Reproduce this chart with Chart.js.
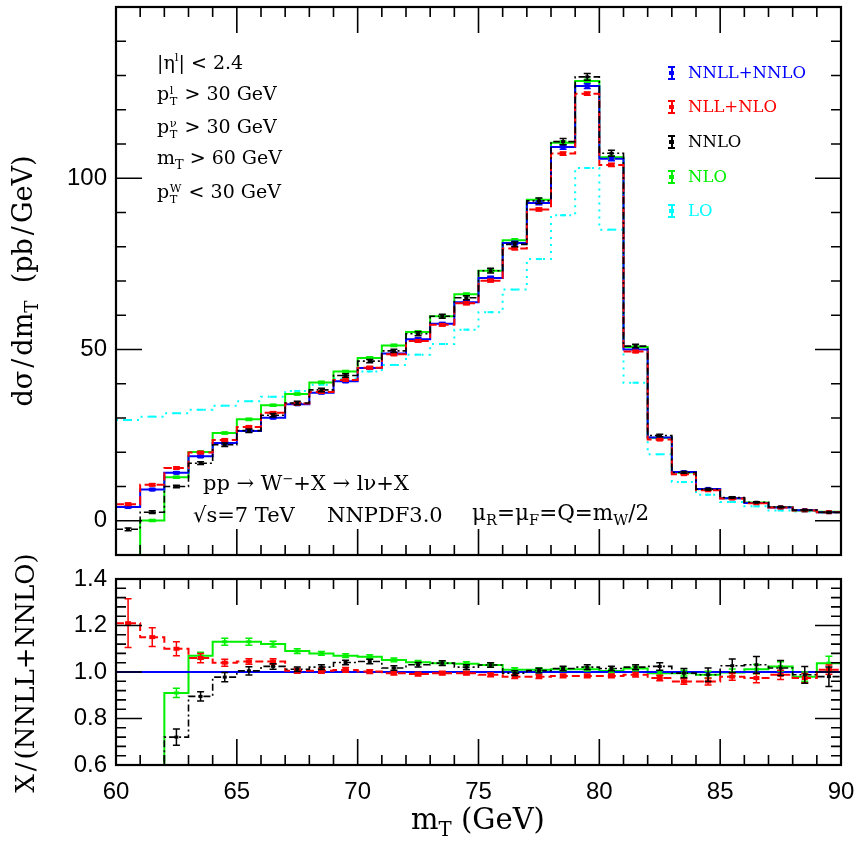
<!DOCTYPE html>
<html>
<head>
<meta charset="utf-8">
<script src="https://cdn.jsdelivr.net/npm/chart.js@4.4.1/dist/chart.umd.min.js"></script>
<style>
  body { margin: 0; background: #fff; }
  #wrap { position: relative; width: 858px; height: 846px; overflow: hidden; font-family: 'DejaVu Serif', serif; color: #000; }
  #wrap canvas { position: absolute; left: 0; }
  #topChart { top: 0; }
  #botChart { top: 560px; }
  .lbl { position: absolute; white-space: nowrap; line-height: 1; }
  .rot { transform: translate(-50%, -50%) rotate(-90deg); }
  .ctr { transform: translate(-50%, -50%); }
  .vc { transform: translateY(-50%); }
  .ss { display: inline-flex; flex-direction: column; vertical-align: 0.5em; font-size: 0.6em; line-height: 0.95; margin: 0 0.1em 0 0.05em; }
  .sb { font-size: 0.68em; vertical-align: -0.35em; }
  .sp { font-size: 0.62em; vertical-align: 0.6em; }
  .sl { margin: 0 3px; }
  .leg { position: absolute; left: 688px; font-size: 16.5px; line-height: 1; transform: translateY(-50%); }
  .icon { position: absolute; left: 668px; width: 7px; height: 14px; transform: translateY(-50%); }
  .icon i { position: absolute; left: 2.5px; top: 0; width: 2px; height: 14px; }
  .icon b { position: absolute; left: 0; width: 7px; height: 2px; }
  .icon u { position: absolute; left: 1px; top: 5px; width: 5px; height: 4px; }
</style>
</head>
<body>
<div id="wrap">
  <canvas id="topChart" width="858" height="560"></canvas>
  <canvas id="botChart" width="858" height="286"></canvas>

  <div class="lbl rot" style="left:25px; top:281px; font-size:27px;">dσ<span class="sl">/</span>dm<span class="sb">T</span>&nbsp; (pb<span class="sl">/</span>GeV)</div>
  <div class="lbl rot" style="left:25px; top:673px; font-size:26px;">X<span class="sl">/</span>(NNLL+NNLO)</div>
  <div class="lbl ctr" style="left:478px; top:822px; font-size:29px;">m<span class="sb">T</span> (GeV)</div>

  <div class="lbl vc" style="left:157px; top:62px; font-size:19px;">|η<span class="sp">l</span>| &lt; 2.4</div>
  <div class="lbl vc" style="left:157px; top:95px; font-size:19px;">p<span class="ss"><span>l</span><span>T</span></span> &gt; 30 GeV</div>
  <div class="lbl vc" style="left:157px; top:128px; font-size:19px;">p<span class="ss"><span>ν</span><span>T</span></span> &gt; 30 GeV</div>
  <div class="lbl vc" style="left:157px; top:160px; font-size:19px;">m<span class="sb">T</span> &gt; 60 GeV</div>
  <div class="lbl vc" style="left:157px; top:193px; font-size:19px;">p<span class="ss"><span>W</span><span>T</span></span> &lt; 30 GeV</div>

  <div class="lbl vc" style="left:203px; top:483px; font-size:21px;">pp → W<span class="sp">−</span>+X → lν+X</div>
  <div class="lbl vc" style="left:193px; top:515px; font-size:21px;">√s=7 TeV</div>
  <div class="lbl vc" style="left:327px; top:515px; font-size:21px;">NNPDF3.0</div>
  <div class="lbl vc" style="left:472px; top:515px; font-size:21.5px;">μ<span class="sb">R</span>=μ<span class="sb">F</span>=Q=m<span class="sb">W</span>/2</div>

  <div id="legend"></div>
</div>
<script>
// bins in m_T (GeV)
const binEdges = [60, 61, 62, 63, 64, 65, 66, 67, 68, 69, 70, 71, 72, 73, 74, 75,
  76, 77, 78, 79, 80, 81, 82, 83, 84, 85, 86, 87, 88, 89, 90];

// d sigma / d m_T (pb/GeV)
const nnllNnlo = [4.0, 9.1, 14.0, 18.8, 22.7, 26.2, 30.1, 34.0, 37.4, 40.7, 44.6, 48.8, 53.0, 57.5, 63.8,
  70.9, 81.1, 92.8, 109.1, 126.9, 105.7, 50.0, 24.3, 14.2, 9.3, 6.6, 5.2, 3.9, 3.1, 2.5];
const nllNlo = [4.84, 10.5, 15.4, 19.9, 23.6, 27.4, 31.5, 34.2, 37.6, 41.1, 44.7, 48.6, 52.5, 57.2, 63.5,
  70.1, 79.5, 90.9, 107.2, 124.7, 103.9, 49.4, 23.7, 13.6, 8.9, 6.5, 5.1, 3.85, 3.0, 2.5];
const nnlo = [-2.5, 2.5, 10.0, 16.8, 22.2, 26.3, 30.8, 34.4, 38.2, 42.4, 46.6, 49.6, 54.6, 59.7, 65.1,
  73.0, 80.7, 93.4, 110.7, 129.6, 107.3, 51.0, 24.9, 14.1, 9.2, 6.8, 5.4, 4.0, 3.1, 2.45];
const nlo = [-15, 0.1, 12.7, 20.1, 25.6, 29.6, 33.7, 37.0, 40.4, 43.6, 47.5, 51.2, 55.1, 59.7, 66.1,
  73.0, 81.9, 93.7, 110.4, 128.4, 106.1, 50.7, 24.2, 14.1, 9.2, 6.6, 5.3, 4.0, 3.0, 2.6];
const lo = [29.4, 30.4, 31.4, 32.4, 33.6, 34.9, 36.2, 37.9, 39.7, 41.5, 43.6, 45.5, 48.5, 51.6, 55.8,
  60.9, 67.5, 76.4, 89.2, 103.0, 85.0, 40.3, 19.4, 11.3, 7.6, 5.5, 4.2, 3.0, 2.7, 2.4];

// integration errors (pb/GeV)
const errNnllNnlo = [0.3, 0.3, 0.3, 0.3, 0.3, 0.3, 0.3, 0.3, 0.35, 0.35, 0.4, 0.4, 0.4, 0.4, 0.45,
  0.5, 0.5, 0.55, 0.6, 0.7, 0.6, 0.3, 0.2, 0.15, 0.1, 0.1, 0.08, 0.07, 0.06, 0.05];
const errNllNlo = [0.3, 0.3, 0.3, 0.3, 0.3, 0.3, 0.3, 0.3, 0.3, 0.3, 0.35, 0.35, 0.35, 0.35, 0.4,
  0.4, 0.4, 0.45, 0.5, 0.5, 0.5, 0.3, 0.2, 0.15, 0.1, 0.1, 0.08, 0.07, 0.06, 0.05];
const errNnlo = [0.4, 0.4, 0.4, 0.4, 0.5, 0.5, 0.5, 0.5, 0.5, 0.5, 0.5, 0.5, 0.6, 0.6, 0.6,
  0.7, 0.7, 0.8, 0.9, 1.0, 0.9, 0.5, 0.35, 0.25, 0.2, 0.18, 0.15, 0.12, 0.1, 0.08];
const errNlo = [0.3, 0.3, 0.3, 0.3, 0.3, 0.3, 0.3, 0.3, 0.3, 0.3, 0.35, 0.35, 0.35, 0.35, 0.4,
  0.4, 0.4, 0.45, 0.5, 0.5, 0.5, 0.3, 0.2, 0.15, 0.1, 0.1, 0.08, 0.07, 0.06, 0.05];

// ratios X / (NNLL+NNLO)
const ratioNnllNnlo = [1, 1, 1, 1, 1, 1, 1, 1, 1, 1, 1, 1, 1, 1, 1,
  1, 1, 1, 1, 1, 1, 1, 1, 1, 1, 1, 1, 1, 1, 1];
const ratioNllNlo = [1.21, 1.15, 1.10, 1.06, 1.04, 1.045, 1.045, 1.005, 1.005, 1.009, 1.002, 0.995, 0.991, 0.995, 0.995,
  0.988, 0.98, 0.98, 0.983, 0.983, 0.983, 0.988, 0.974, 0.959, 0.959, 0.98, 0.974, 0.988, 0.974, 1.01];
const ratioNnlo = [-0.6, 0.27, 0.72, 0.895, 0.978, 1.005, 1.024, 1.012, 1.021, 1.041, 1.045, 1.017, 1.031, 1.038, 1.021,
  1.03, 0.995, 1.006, 1.015, 1.021, 1.015, 1.021, 1.024, 0.995, 0.988, 1.027, 1.031, 1.017, 0.988, 0.98];
const ratioNlo = [-3.7, 0.01, 0.91, 1.07, 1.13, 1.13, 1.12, 1.09, 1.08, 1.07, 1.066, 1.052, 1.042, 1.038, 1.036,
  1.03, 1.01, 1.01, 1.012, 1.012, 1.004, 1.015, 0.995, 0.995, 0.988, 0.998, 1.012, 1.024, 0.98, 1.038];
const rerrNllNlo = [0.105, 0.04, 0.03, 0.02, 0.015, 0.012, 0.012, 0.01, 0.01, 0.01, 0.008, 0.008, 0.008, 0.008, 0.008,
  0.008, 0.008, 0.008, 0.008, 0.008, 0.008, 0.01, 0.012, 0.012, 0.015, 0.015, 0.02, 0.02, 0.02, 0.02];
const rerrNnlo = [0.05, 0.05, 0.035, 0.02, 0.02, 0.018, 0.012, 0.01, 0.01, 0.01, 0.01, 0.01, 0.01, 0.01, 0.01,
  0.01, 0.01, 0.01, 0.01, 0.01, 0.01, 0.01, 0.016, 0.02, 0.029, 0.029, 0.036, 0.032, 0.036, 0.042];
const rerrNlo = [0, 0, 0.02, 0.015, 0.015, 0.015, 0.012, 0.01, 0.008, 0.008, 0.008, 0.008, 0.008, 0.008, 0.008,
  0.008, 0.008, 0.008, 0.008, 0.008, 0.008, 0.01, 0.01, 0.012, 0.015, 0.015, 0.02, 0.02, 0.02, 0.03];

// axis ticks
const xTickLabels = [60, 65, 70, 75, 80, 85, 90];
const yTicksTop = [0, 50, 100];
const yTicksBot = [0.6, 0.8, 1.0, 1.2, 1.4];

const BLUE = '#0000ff', RED = '#ff0000', BLACK = '#000000', GREEN = '#00f000', CYAN = '#00ffff';

// histogram outline: one point per lower edge, plus closing point at last edge
function steps(vals) {
  const pts = vals.map((v, i) => ({ x: binEdges[i], y: v }));
  pts.push({ x: binEdges[binEdges.length - 1], y: vals[vals.length - 1] });
  return pts;
}

function hist(label, vals, errs, color, dash, width, mw, mh) {
  return {
    label, data: steps(vals), vals, errs,
    borderColor: color, borderWidth: width, borderDash: dash,
    stepped: true, pointRadius: 0, fill: false, mw, mh
  };
}

// ========================
// inward ticks + frame
// ========================
const frameTicks = {
  id: 'frameTicks',
  afterDraw(chart, args, o) {
    const { ctx, chartArea: a, scales: { x, y } } = chart;
    ctx.save();
    ctx.strokeStyle = '#000';
    ctx.lineWidth = 1.6;
    ctx.setLineDash([]);
    ctx.beginPath();
    const nx = Math.round((o.xMax - o.xMin) / o.xMinor);
    for (let i = 0; i <= nx; i++) {
      const px = x.getPixelForValue(o.xMin + i * o.xMinor);
      const len = i % o.xEvery === 0 ? 26 : 10;
      ctx.moveTo(px, a.top); ctx.lineTo(px, a.top + len);
      ctx.moveTo(px, a.bottom); ctx.lineTo(px, a.bottom - len);
    }
    const ny = Math.round((o.yMax - o.yMin) / o.yMinor);
    for (let i = 0; i <= ny; i++) {
      const py = y.getPixelForValue(o.yMin + i * o.yMinor);
      const len = (i - o.yOff) % o.yEvery === 0 ? 26 : 10;
      ctx.moveTo(a.left, py); ctx.lineTo(a.left + len, py);
      ctx.moveTo(a.right, py); ctx.lineTo(a.right - len, py);
    }
    ctx.stroke();
    ctx.lineWidth = 2.2;
    ctx.strokeRect(a.left, a.top, a.width, a.height);
    ctx.restore();
  }
};

// ========================
// markers + error bars at bin centres
// ========================
const errorBars = {
  id: 'errorBars',
  afterDatasetsDraw(chart) {
    const { ctx, chartArea: a, scales: { x, y } } = chart;
    ctx.save();
    ctx.beginPath();
    ctx.rect(a.left, a.top, a.width, a.height);
    ctx.clip();
    ctx.setLineDash([]);
    chart.data.datasets.slice().reverse().forEach(ds => {
      ctx.strokeStyle = ds.borderColor;
      ctx.fillStyle = ds.borderColor;
      ctx.lineWidth = 1.5;
      ds.vals.forEach((v, i) => {
        const cx = x.getPixelForValue((binEdges[i] + binEdges[i + 1]) / 2);
        const cy = y.getPixelForValue(v);
        const e = ds.errs ? ds.errs[i] : 0;
        if (e > 0) {
          const y1 = y.getPixelForValue(v + e), y2 = y.getPixelForValue(v - e);
          ctx.beginPath();
          ctx.moveTo(cx, y1); ctx.lineTo(cx, y2);
          ctx.moveTo(cx - 3.5, y1); ctx.lineTo(cx + 3.5, y1);
          ctx.moveTo(cx - 3.5, y2); ctx.lineTo(cx + 3.5, y2);
          ctx.stroke();
        }
        if (ds.mw) ctx.fillRect(cx - ds.mw / 2, cy - ds.mh / 2, ds.mw, ds.mh);
      });
    });
    ctx.restore();
  }
};

const tickFont = { family: "'Liberation Sans', Arial, sans-serif", size: 24 };

function fixedY(width) {
  return scale => {
    scale.width = width;
    scale.paddingTop = 0;
    scale.paddingBottom = 0;
  };
}

// ========================
// top panel
// ========================
new Chart(document.getElementById('topChart'), {
  type: 'line',
  data: {
    datasets: [
      hist('NNLO', nnlo, errNnlo, BLACK, [7, 3, 2, 3], 1.6, 4, 3),
      hist('NLL+NLO', nllNlo, errNllNlo, RED, [8, 4], 2, 6, 4),
      hist('NNLL+NNLO', nnllNnlo, errNnllNnlo, BLUE, [], 2, 5, 4),
      hist('NLO', nlo, errNlo, GREEN, [], 2, 5, 3),
      hist('LO', lo, null, CYAN, [2, 5], 2, 6, 2)
    ]
  },
  options: {
    responsive: false,
    animation: false,
    devicePixelRatio: 1,
    layout: { padding: { left: 0, top: 7, right: 17, bottom: 5 } },
    plugins: {
      legend: { display: false },
      tooltip: { enabled: false },
      frameTicks: { xMin: 60, xMax: 90, xMinor: 1, xEvery: 5, yMin: -10, yMax: 150, yMinor: 10, yEvery: 5, yOff: 1 }
    },
    scales: {
      x: {
        type: 'linear', min: 60, max: 90, display: false,
        afterFit: s => { s.paddingLeft = 0; s.paddingRight = 0; }
      },
      y: {
        type: 'linear', min: -10, max: 150,
        grid: { display: false, drawTicks: false },
        border: { display: false },
        ticks: { font: tickFont, color: '#000', padding: 9 },
        afterBuildTicks: s => { s.ticks = yTicksTop.map(v => ({ value: v })); },
        afterFit: fixedY(116)
      }
    }
  },
  plugins: [errorBars, frameTicks]
});

// ========================
// ratio panel
// ========================
new Chart(document.getElementById('botChart'), {
  type: 'line',
  data: {
    datasets: [
      hist('NNLO', ratioNnlo, rerrNnlo, BLACK, [7, 3, 2, 3], 1.6, 4, 3),
      hist('NLL+NLO', ratioNllNlo, rerrNllNlo, RED, [8, 4], 2, 6, 4),
      hist('NNLL+NNLO', ratioNnllNnlo, null, BLUE, [], 2, 0, 0),
      hist('NLO', ratioNlo, rerrNlo, GREEN, [], 2, 5, 3)
    ]
  },
  options: {
    responsive: false,
    animation: false,
    devicePixelRatio: 1,
    layout: { padding: { left: 0, top: 19, right: 17, bottom: 0 } },
    plugins: {
      legend: { display: false },
      tooltip: { enabled: false },
      frameTicks: { xMin: 60, xMax: 90, xMinor: 1, xEvery: 5, yMin: 0.6, yMax: 1.4, yMinor: 0.04, yEvery: 5, yOff: 0 }
    },
    scales: {
      x: {
        type: 'linear', min: 60, max: 90,
        grid: { display: false, drawTicks: false },
        border: { display: false },
        ticks: { font: tickFont, color: '#000', padding: 13, maxRotation: 0 },
        afterBuildTicks: s => { s.ticks = xTickLabels.map(v => ({ value: v })); },
        afterFit: s => { s.height = 81; s.paddingLeft = 0; s.paddingRight = 0; }
      },
      y: {
        type: 'linear', min: 0.6, max: 1.4,
        grid: { display: false, drawTicks: false },
        border: { display: false },
        ticks: { font: tickFont, color: '#000', padding: 9, callback: v => v.toFixed(1) },
        afterBuildTicks: s => { s.ticks = yTicksBot.map(v => ({ value: v })); },
        afterFit: fixedY(116)
      }
    }
  },
  plugins: [errorBars, frameTicks]
});

// ========================
// legend (error-bar icon + coloured name)
// ========================
const legendItems = [
  ['NNLL+NNLO', BLUE], ['NLL+NLO', RED], ['NNLO', BLACK], ['NLO', GREEN], ['LO', CYAN]
];
const legendTop = [73, 107, 142, 177, 211];
document.getElementById('legend').innerHTML = legendItems.map(([name, c], i) => `
  <div class="icon" style="top:${legendTop[i]}px">
    <i style="background:${c}"></i><b style="top:0;background:${c}"></b>
    <b style="top:12px;background:${c}"></b><u style="background:${c}"></u>
  </div>
  <div class="leg" style="top:${legendTop[i]}px;color:${c}">${name}</div>`).join('');
</script>
</body>
</html>
